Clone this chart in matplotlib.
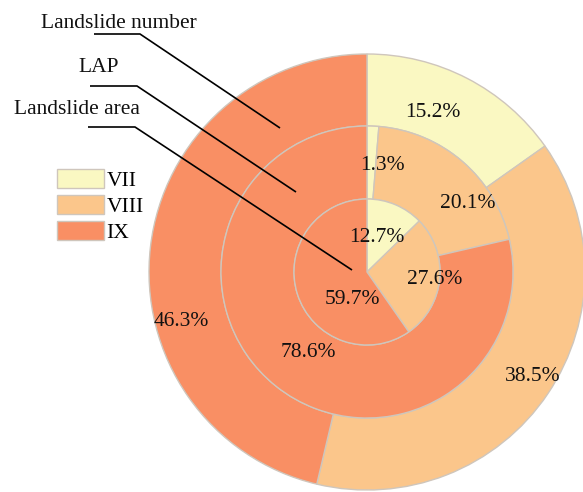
import numpy as np
import matplotlib
matplotlib.use("Agg")
import matplotlib.pyplot as plt

# Intensity classes and their shares (%) for each ring
classes = ["VII", "VIII", "IX"]
landslide_number = [15.2, 38.5, 46.3]   # outer ring
lap = [1.3, 20.1, 78.6]                 # middle ring
landslide_area = [12.7, 27.6, 59.7]     # inner ring

colors = ["#FAF8C2", "#FBC68B", "#F98F64"]
edge = "#CFC6BC"

plt.rcParams["font.family"] = ["Liberation Serif", "DejaVu Serif"]
FS = 15.5

W, H = 583, 492
fig = plt.figure(figsize=(W / 100, H / 100), dpi=100)
ax = fig.add_axes([0, 0, 1, 1])

cx, cy = 367, H - 272
r_out, r_mid, r_in = 218, 146, 73
wp = dict(edgecolor=edge, linewidth=1.0)

outer, _ = ax.pie(landslide_number, radius=r_out, center=(cx, cy), startangle=90,
                  counterclock=False, colors=colors, frame=True,
                  wedgeprops=dict(width=r_out - r_mid, **wp))
ax.pie(lap, radius=r_mid, center=(cx, cy), startangle=90, counterclock=False,
       colors=colors, frame=True, wedgeprops=dict(width=r_mid - r_in, **wp))
ax.pie(landslide_area, radius=r_in, center=(cx, cy), startangle=90,
       counterclock=False, colors=colors, frame=True, wedgeprops=dict(**wp))

ax.set_xlim(0, W)
ax.set_ylim(0, H)
ax.set_aspect("equal")
ax.axis("off")

# Percentage labels: (angle in degrees, distance from centre) for each slice
label_pos = {
    "outer": [(67.6, 173), (-32.3, 196), (195.0, 192)],
    "mid": [(81.5, 108), (34.3, 122), (234.0, 100)],
    "inner": [(74.0, 36), (-6.7, 68), (243.0, 31)],
}
for vals, key in [(landslide_number, "outer"), (lap, "mid"), (landslide_area, "inner")]:
    for v, (ang, rr) in zip(vals, label_pos[key]):
        a = np.deg2rad(ang)
        ax.text(cx + rr * np.cos(a), cy + rr * np.sin(a), f"{v:.1f}%",
                ha="center", va="center", fontsize=FS, color="#111111")

# Ring titles with leader lines
titles = [
    ("Landslide number", (119, 24), [(94, 34), (140, 34), (280, 128)]),
    ("LAP", (99, 68), [(90, 86), (137, 86), (296, 192)]),
    ("Landslide area", (77, 110), [(88, 127), (135, 127), (352, 270)]),
]
for txt, (tx, ty), pts in titles:
    ax.text(tx, H - ty, txt, ha="center", va="center", fontsize=FS, color="#111111")
    xs = [p[0] for p in pts]
    ys = [H - p[1] for p in pts]
    ax.plot(xs, ys, color="black", linewidth=1.2, solid_capstyle="butt")

leg = ax.legend(outer, classes, loc="upper left",
                bbox_to_anchor=(57 / W, 1 - 169 / H), bbox_transform=fig.transFigure,
                frameon=False, fontsize=FS, handlelength=2.2, handleheight=1.0,
                handletextpad=0.1, labelspacing=0.18, borderpad=0, borderaxespad=0)

fig.savefig("out.png", dpi=100, facecolor="white")
